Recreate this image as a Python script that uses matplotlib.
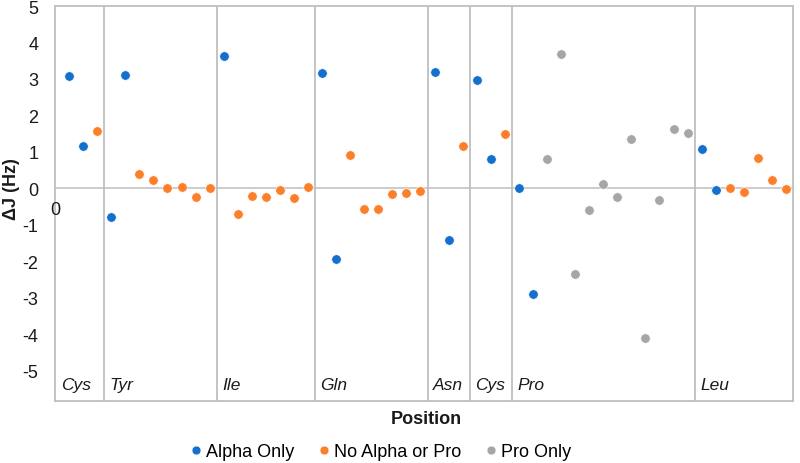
import matplotlib
matplotlib.use("Agg")
import matplotlib.pyplot as plt
from matplotlib.lines import Line2D

plt.rcParams['font.family'] = ['Liberation Sans', 'DejaVu Sans']

# ---- data ----
residues = ["Cys", "Tyr", "Ile", "Gln", "Asn", "Cys", "Pro", "Leu"]
residue_counts = [3, 8, 7, 8, 3, 3, 13, 7]

alpha_x = [1, 2, 4, 5, 12, 19, 20, 27, 28, 30, 31, 33, 34, 46, 47]
alpha_y = [3.07, 1.16, -0.78, 3.11, 3.63, 3.16, -1.95, 3.18, -1.42, 2.98, 0.80, 0.0, -2.91, 1.08, -0.05]

noalpha_x = [3, 6, 7, 8, 9, 10, 11, 13, 14, 15, 16, 17, 18, 21, 22, 23, 24, 25, 26, 29, 32, 48, 49, 50, 51, 52]
noalpha_y = [1.57, 0.39, 0.22, 0.0, 0.04, -0.23, 0.0, -0.71, -0.21, -0.25, -0.05, -0.27, 0.04,
             0.91, -0.57, -0.57, -0.15, -0.13, -0.06, 1.16, 1.50, 0.01, -0.10, 0.82, 0.24, -0.03]

pro_x = [35, 36, 37, 38, 39, 40, 41, 42, 43, 44, 45]
pro_y = [0.80, 3.68, -2.34, -0.60, 0.12, -0.23, 1.35, -4.10, -0.33, 1.63, 1.52]

y_ticks = [5, 4, 3, 2, 1, 0, -1, -2, -3, -4, -5]

# ---- styling ----
c_alpha = "#1570CD"
c_noalpha = "#FE7F2A"
c_pro = "#A6A6A6"
c_grid = "#BFBFBF"
fs = 13

W, H = 800, 464
fig = plt.figure(figsize=(W / 100, H / 100), dpi=100)
L, R, T, B = 55, 793, 7, 402
ax = fig.add_axes([L / W, 1 - B / H, (R - L) / W, (B - T) / H])

ax.set_xlim(0, sum(residue_counts) + 0.5)
ax.set_ylim(-5.83, 5)

ax.axhline(0, color=c_grid, lw=1.1, zorder=1, clip_on=False)

# group separators and labels
bounds = [0.0]
acc = 0
for n in residue_counts:
    acc += n
    bounds.append(acc + 0.5)
for i, name in enumerate(residues):
    x0 = bounds[i]
    if i > 0:
        ax.axvline(x0, color=c_grid, lw=1.3, zorder=1)
    ax.annotate(name, xy=(x0, -5.39), xytext=(4, 0), textcoords="offset points",
                ha="left", va="center", fontsize=fs - 0.5, style="italic", color="#1a1a1a")

ms = 46
ax.scatter(alpha_x, alpha_y, s=ms, color=c_alpha, edgecolors="white", linewidths=0.4, zorder=3)
ax.scatter(noalpha_x, noalpha_y, s=ms, color=c_noalpha, edgecolors="white", linewidths=0.4, zorder=3)
ax.scatter(pro_x, pro_y, s=ms, color=c_pro, edgecolors="white", linewidths=0.4, zorder=3)

for sp in ax.spines.values():
    sp.set_color(c_grid)
    sp.set_linewidth(1.3)

ax.set_xticks([])
ax.set_yticks(y_ticks)
ax.set_yticklabels([str(v) for v in y_ticks], fontsize=fs, color="#1a1a1a")
ax.tick_params(axis="y", length=0, pad=12)

# x-axis "0" label sitting under the zero line
ax.annotate("0", xy=(0, 0), xytext=(0, -15.5), textcoords="offset points",
            ha="center", va="center", fontsize=fs, color="#1a1a1a")

fig.text(11 / W, 1 - 189 / H, "ΔJ (Hz)", rotation=90, ha="center", va="center",
         fontsize=fs, fontweight="bold", color="#1a1a1a")
fig.text(426 / W, 1 - 420 / H, "Position", ha="center", va="center",
         fontsize=fs, fontweight="bold", color="#1a1a1a")

handles = [Line2D([], [], ls="", marker="o", ms=6.3, color=c, mec="white", mew=0.3)
           for c in (c_alpha, c_noalpha, c_pro)]
fig.legend(handles, ["Alpha Only", "No Alpha or Pro", "Pro Only"], loc="center",
           bbox_to_anchor=(381 / W, 1 - 453 / H), ncol=3, frameon=False, fontsize=fs,
           handlelength=0.6, handletextpad=0.25, columnspacing=1.35, borderpad=0)

fig.savefig("out.png", dpi=100)
